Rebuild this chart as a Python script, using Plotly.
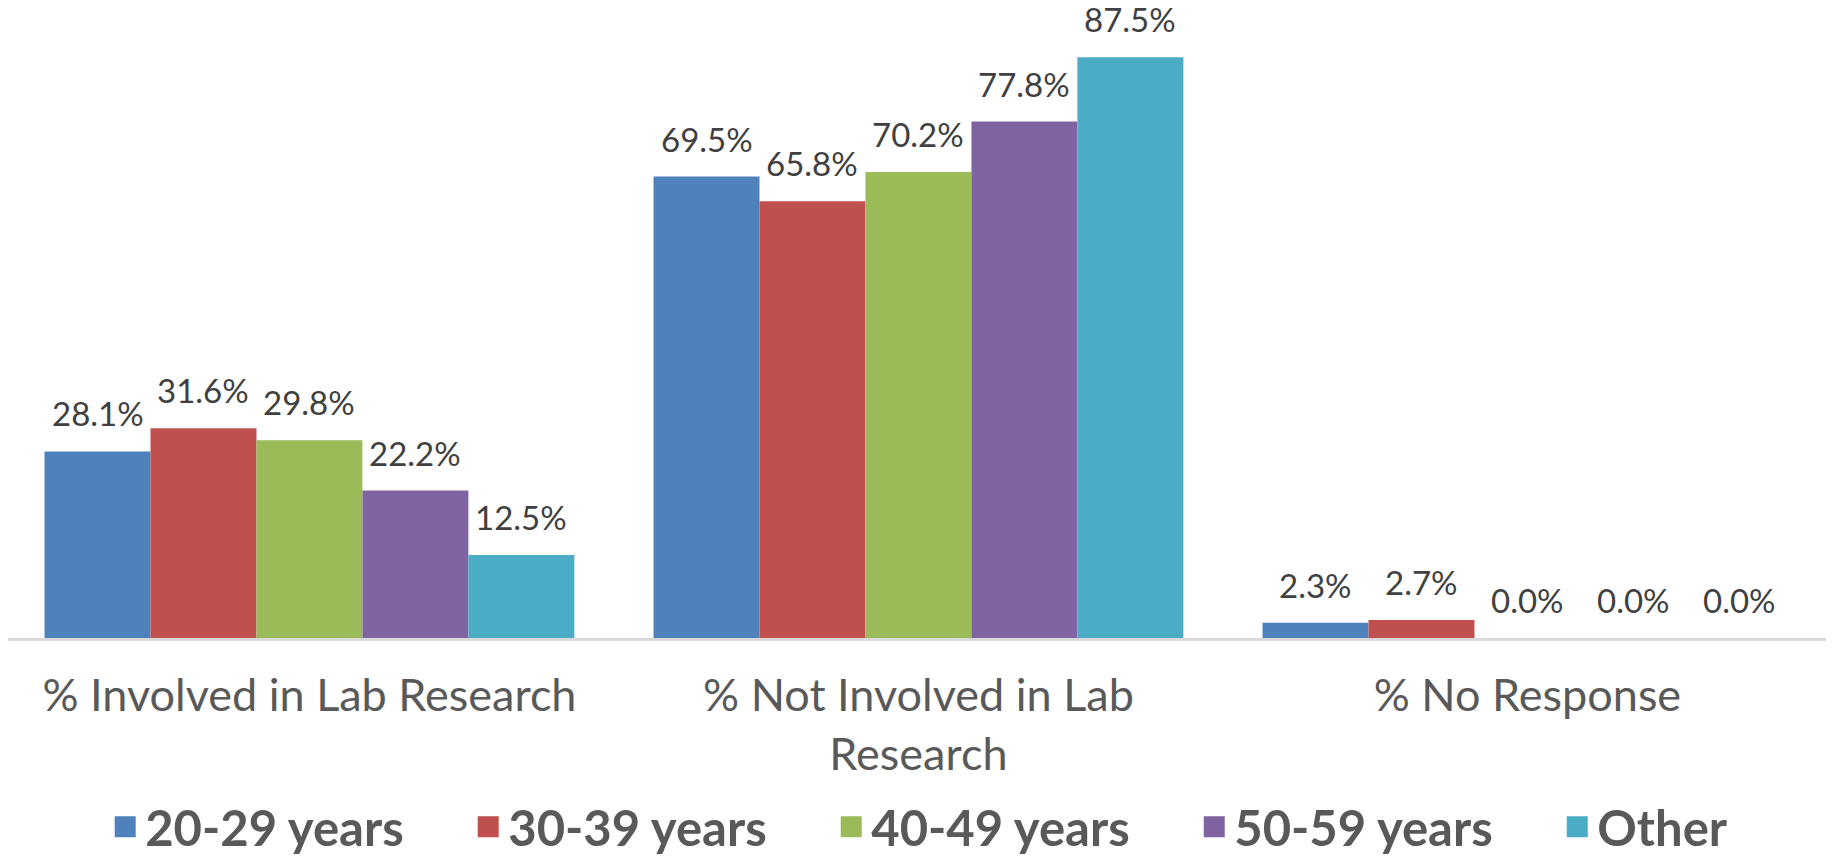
import plotly.graph_objects as go

categories = ["% Involved in Lab Research", "% Not Involved in Lab<br>Research", "% No Response"]
series_names = ["20-29 years", "30-39 years", "40-49 years", "50-59 years", "Other"]
values_20_29 = [28.1, 69.5, 2.3]
values_30_39 = [31.6, 65.8, 2.7]
values_40_49 = [29.8, 70.2, 0.0]
values_50_59 = [22.2, 77.8, 0.0]
values_other = [12.5, 87.5, 0.0]
series_values = [values_20_29, values_30_39, values_40_49, values_50_59, values_other]
colors = ["#4F81BD", "#C0504D", "#9BBB59", "#8064A2", "#4BACC6"]

FONT = "Lato"
GROUP = 0.87
BAR_W = GROUP / len(series_names)

fig = go.Figure()
annotations = []
for i, (name, vals, col) in enumerate(zip(series_names, series_values, colors)):
    off = -GROUP / 2 + i * BAR_W
    fig.add_trace(go.Bar(
        x=categories, y=vals, name=name, showlegend=False,
        width=BAR_W, offset=off,
        marker=dict(color=col, line=dict(width=0)),
    ))
    # legend proxy (no points)
    pad = "\u00a0" * 5 if i < len(series_names) - 1 else ""
    fig.add_trace(go.Scatter(
        x=[None], y=[None], mode="markers", name=name + pad,
        marker=dict(symbol="square", size=16, color=col, line=dict(width=5, color=col)),
    ))
    for ci, v in enumerate(vals):
        annotations.append(dict(
            x=ci + off + BAR_W / 2, y=v, xref="x", yref="y",
            text=f"{v:.1f}%", showarrow=False, yanchor="bottom", xanchor="center",
            yshift=16, font=dict(family=FONT, size=33, color="#404040"),
        ))

fig.update_layout(
    width=1834, height=858,
    margin=dict(l=0, r=0, t=0, b=228),
    paper_bgcolor="white", plot_bgcolor="white",
    barmode="overlay",
    showlegend=True,
    annotations=annotations,
    legend=dict(orientation="h", xref="paper", x=0.053, xanchor="left",
                yref="container", y=39 / 858, yanchor="middle",
                font=dict(family=FONT, size=49, color="#595959", weight="bold"),
                traceorder="normal", bgcolor="rgba(0,0,0,0)"),
    xaxis=dict(showline=True, linecolor="#D9D9D9", linewidth=3, showgrid=False,
               ticks="", tickfont=dict(family=FONT, size=45, color="#595959"),
               ticklabelstandoff=16, automargin=False, range=[-0.495, 2.5165]),
    yaxis=dict(range=[0, 94.9], visible=False, showgrid=False, zeroline=False,
               automargin=False),
)

fig.write_html("out.html")
